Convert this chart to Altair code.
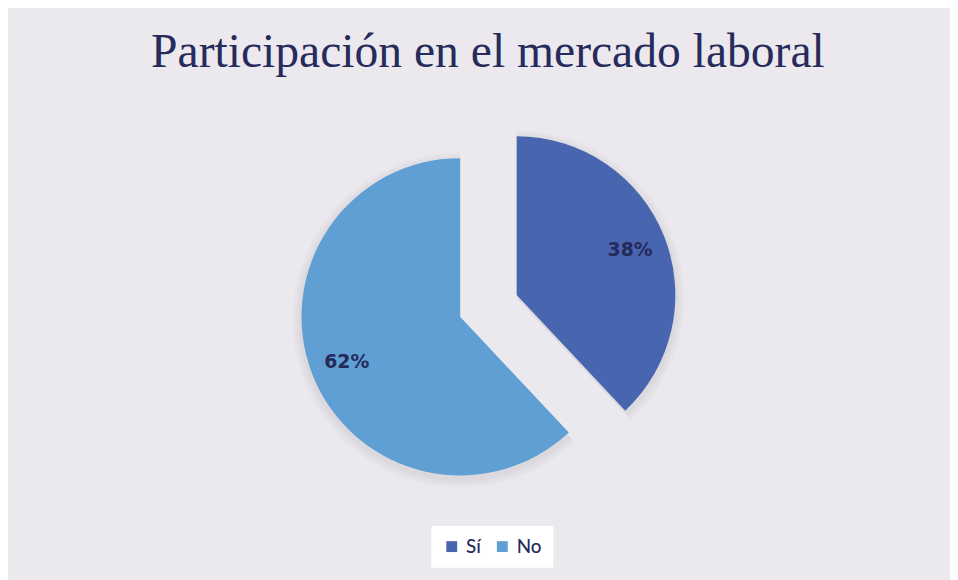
import math
import altair as alt
import pandas as pd

categories = ["Sí", "No"]
values = [38, 62]
colors = ["#4866b0", "#5f9fd4"]

starts, ends, mids, labels = [], [], [], []
acc = 0
for v in values:
    starts.append(acc)
    ends.append(acc + v)
    mids.append(acc + v / 2)
    labels.append(f"{v}%")
    acc += v

df = pd.DataFrame({"cat": categories, "value": values, "start": starts,
                   "end": ends, "mid": mids, "label": labels})

theta_scale = alt.Scale(domain=[0, 100], range=[0, 2 * math.pi])
color_enc = alt.Color("cat:N", scale=alt.Scale(domain=categories, range=colors),
                      sort=categories,
                      legend=alt.Legend(title=None, orient="none", legendX=427, legendY=433,
                                        direction="horizontal", fillColor="white",
                                        padding=11, symbolType="square", symbolSize=120,
                                        symbolStrokeWidth=0, labelFont="Lato",
                                        labelFontSize=19, labelFontWeight=500,
                                        labelColor="#262a5a",
                                        labelOffset=5, columnPadding=12))

centers = {"Sí": (513, 200), "No": (456, 222)}
R = 160

base = alt.Chart(df)
layers = []
# soft shadow
for cat in categories:
    cx, cy = centers[cat]
    for extra, op in [(9, 0.03), (6, 0.04), (3, 0.05)]:
        layers.append(
            base.transform_filter(alt.datum.cat == cat)
            .mark_arc(outerRadius=R + extra, color="#6e6e7a", opacity=op)
            .encode(theta=alt.Theta("start:Q", scale=theta_scale), theta2="end:Q",
                    x=alt.value(cx), y=alt.value(cy + 3))
        )
for cat in categories:
    cx, cy = centers[cat]
    layers.append(
        base.transform_filter(alt.datum.cat == cat)
        .mark_arc(outerRadius=R)
        .encode(theta=alt.Theta("start:Q", scale=theta_scale), theta2="end:Q",
                color=color_enc, x=alt.value(cx), y=alt.value(cy))
    )
    layers.append(
        base.transform_filter(alt.datum.cat == cat)
        .mark_text(radius=123, font="DejaVu Sans", fontWeight="bold", fontSize=19,
                   color="#262a5a")
        .encode(theta=alt.Theta("mid:Q", scale=theta_scale), text="label:N",
                x=alt.value(cx), y=alt.value(cy))
    )

chart = alt.layer(*layers).properties(
    width=950, height=485,
    padding={"top": 19, "left": 0, "right": 0, "bottom": 0},
    title=alt.TitleParams("Participación en el mercado laboral", font="Liberation Serif",
                          fontSize=48, fontWeight="normal", color="#272b5c",
                          anchor="middle", offset=20, dx=9),
    background="#ebe9ed",
).configure_view(stroke=None)

chart.save("out.html", embed_options={"renderer": "svg", "actions": False})
